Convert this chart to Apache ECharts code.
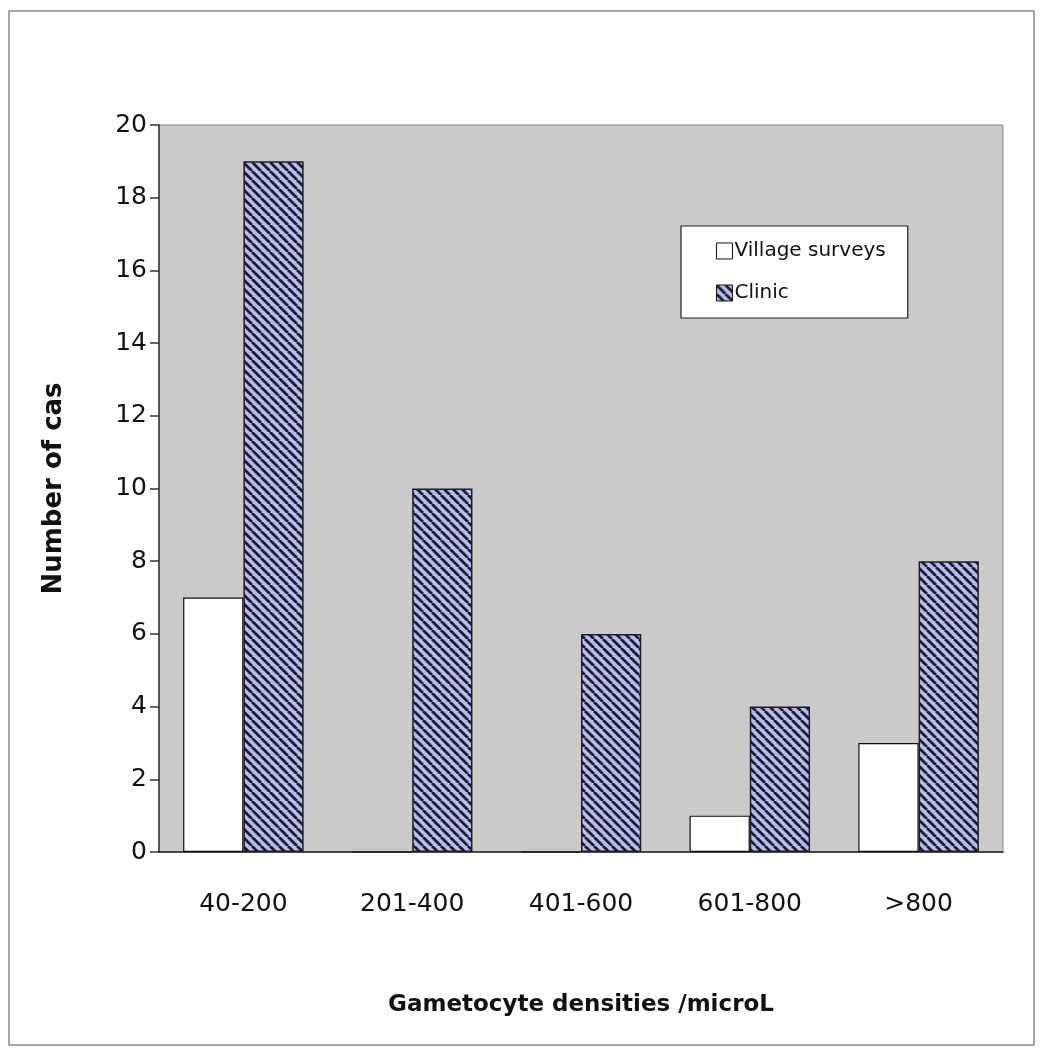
<!DOCTYPE html>
<html><head><meta charset="utf-8">
<script src="https://cdn.jsdelivr.net/npm/echarts@6/dist/echarts.min.js"></script>
<style>html,body{margin:0;padding:0;background:#fff}#c{width:1043px;height:1054px}</style>
</head><body><div id="c"></div>
<script>
const categories = ['40-200', '201-400', '401-600', '601-800', '>800'];
const villageSurveys = [7, 0, 0, 1, 3];
const clinic = [19, 10, 6, 4, 8];
const yTicks = [0, 2, 4, 6, 8, 10, 12, 14, 16, 18, 20];

function makeHatch() {
  const s = 9;
  const cv = document.createElement('canvas');
  cv.width = s; cv.height = s;
  const ctx = cv.getContext('2d');
  ctx.fillStyle = '#b7bcf0';
  ctx.fillRect(0, 0, s, s);
  ctx.strokeStyle = '#1c1c2c';
  ctx.lineWidth = 2.8;
  ctx.beginPath();
  for (let k = -1; k <= 1; k++) {
    ctx.moveTo(k * s, 0);
    ctx.lineTo(k * s + s, s);
  }
  ctx.stroke();
  return cv;
}
const hatch = { image: makeHatch(), repeat: 'repeat' };

const chart = echarts.init(document.getElementById('c'));
const font = 'DejaVu Sans';
chart.setOption({
  backgroundColor: '#ffffff',
  animation: false,
  graphic: [
    { type: 'rect', shape: { x: 9, y: 11, width: 1025, height: 1034 }, style: { fill: 'none', stroke: '#8a8a8a', lineWidth: 1.5 }, z: -1 }
  ],
  grid: { left: 159, right: 40, top: 125, bottom: 202, show: true, backgroundColor: '#cbc9ca', borderColor: '#8c8c8c', borderWidth: 1 },
  legend: {
    data: ['Village surveys', 'Clinic'],
    orient: 'vertical',
    left: 681, top: 226,
    padding: [15, 22, 15, 35],
    itemGap: 22,
    itemWidth: 16, itemHeight: 16,
    backgroundColor: '#ffffff',
    borderColor: '#222222', borderWidth: 1.2,
    textStyle: { fontFamily: font, fontSize: 20, color: '#111', padding: [0, 0, 0, -3] },
    itemStyle: { borderColor: '#111', borderWidth: 1 },
    icon: 'rect'
  },
  xAxis: {
    type: 'category',
    data: categories,
    name: 'Gametocyte densities /microL',
    nameLocation: 'middle',
    nameGap: 142,
    nameTextStyle: { fontFamily: font, fontSize: 23, fontWeight: 'bold', color: '#111' },
    axisLine: { lineStyle: { color: '#222', width: 1.5 } },
    axisTick: { show: false },
    axisLabel: { fontFamily: font, fontSize: 25, color: '#111', margin: 40 }
  },
  yAxis: {
    type: 'value',
    min: 0, max: 20, interval: 2,
    name: 'Number of cas',
    nameLocation: 'middle',
    nameGap: 92,
    nameTextStyle: { fontFamily: font, fontSize: 26, fontWeight: 'bold', color: '#111' },
    axisLine: { show: true, lineStyle: { color: '#333', width: 1.5 } },
    axisTick: { show: true, inside: false, length: 9, lineStyle: { color: '#333', width: 1.5 } },
    splitLine: { show: false },
    axisLabel: { fontFamily: font, fontSize: 25, color: '#111', margin: 12,
      formatter: v => yTicks.includes(v) ? String(v) : '' }
  },
  series: [
    { name: 'Village surveys', type: 'bar', data: villageSurveys, barGap: '0%', barCategoryGap: '28.6%',
      itemStyle: { color: '#ffffff', borderColor: '#111', borderWidth: 1.2 } },
    { name: 'Clinic', type: 'bar', data: clinic,
      itemStyle: { color: hatch, borderColor: '#1c1c2c', borderWidth: 1.5 } }
  ]
});
</script></body></html>
